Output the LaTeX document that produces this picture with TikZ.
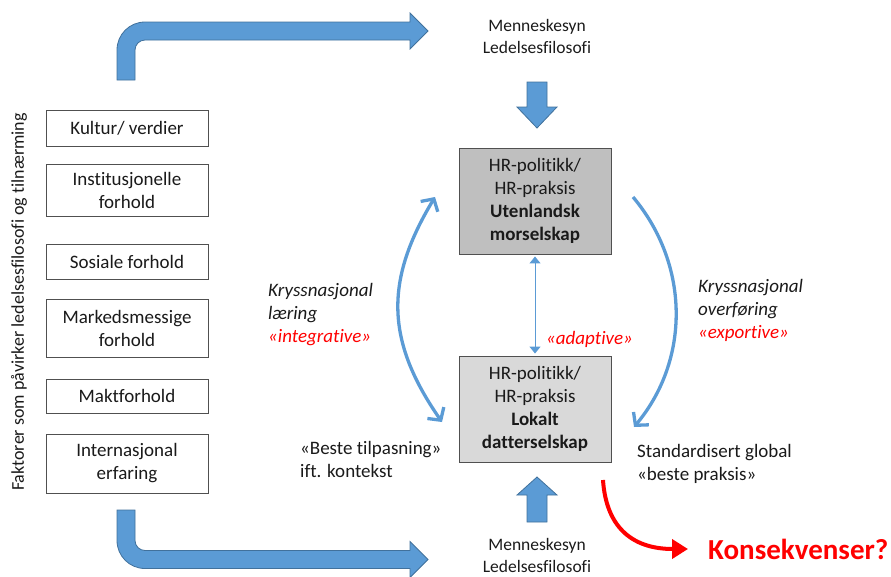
\documentclass[tikz,border=0pt]{standalone}
\usepackage{fontspec}
\setmainfont{Carlito}[Ligatures={NoCommon}]
\usetikzlibrary{arrows.meta}
\definecolor{officeblue}{HTML}{5B9BD5}
\definecolor{blueedge}{HTML}{41719C}
\definecolor{boxedge}{HTML}{505050}
\definecolor{txt}{HTML}{1A1A1A}
\definecolor{darkfill}{HTML}{BFBFBF}
\definecolor{lightfill}{HTML}{D9D9D9}
\definecolor{redc}{HTML}{FF0000}
\begin{document}
\begin{tikzpicture}[x=1pt,y=-1pt,
  basetext/.style={font=\fontsize{19}{23}\selectfont, text=txt},
  factor/.style={basetext, draw=boxedge, line width=0.9pt, fill=white, minimum width=162pt, align=center, inner sep=0pt},
  hrbox/.style={basetext, draw=boxedge, line width=0.9pt, minimum width=152pt, minimum height=106pt, align=center, inner sep=0pt},
  lbl/.style={basetext, align=left, anchor=west, inner sep=0pt},
  itlbl/.style={lbl, font=\fontsize{19}{23}\selectfont\itshape},
  menne/.style={font=\fontsize{17.5}{22}\selectfont, align=center, inner sep=0pt, text=txt},
  blockarrow/.style={fill=officeblue, draw=blueedge, line width=0.8pt},
  curvearrow/.style={draw=officeblue, line width=3.3pt},
]
\useasboundingbox (0,0) rectangle (891,576);

% bent arrows
\path[blockarrow] (117,80) -- (117,50) .. controls (117,34.5) and (129.5,22) .. (145,22)
  -- (410,22) -- (410,13) -- (428,31) -- (410,49) -- (410,40) -- (145,40)
  .. controls (139.5,40) and (135,44.5) .. (135,50) -- (135,80) -- cycle;
\path[blockarrow] (117,510) -- (117,540.5) .. controls (117,556) and (129.5,568.5) .. (145,568.5)
  -- (410,568.5) -- (410,577.5) -- (428,559.5) -- (410,541.5) -- (410,550.5) -- (145,550.5)
  .. controls (139.5,550.5) and (135,546) .. (135,540.5) -- (135,510) -- cycle;

% rotated side text
\node[font=\fontsize{18}{22}\selectfont, text=txt, rotate=90, inner sep=0pt] (side) at (19,302) {Faktorer som påvirker ledelsesfilosofi og tilnærming};

% factor boxes
\node[factor, minimum height=36pt] (f1) at (127,128) {Kultur/ verdier};
\node[factor, minimum height=52pt] (f2) at (127,190) {Institusjonelle\\forhold};
\node[factor, minimum height=35pt] (f3) at (127,261.5) {Sosiale forhold};
\node[factor, minimum height=58pt] (f4) at (127,328) {Markedsmessige\\forhold};
\node[factor, minimum height=34pt] (f5) at (127,396) {Maktforhold};
\node[factor, minimum height=59pt] (f6) at (127,463.5) {Internasjonal\\erfaring};

% Menneskesyn texts
\node[menne] (mtop) at (537,36) {Menneskesyn\\Ledelsesfilosofi};
\node[menne] (mbot) at (537,555) {Menneskesyn\\Ledelsesfilosofi};

% vertical block arrows
\path[blockarrow] (527,82) -- (547,82) -- (547,107) -- (557,107) -- (537,128) -- (517,107) -- (527,107) -- cycle;
\path[blockarrow] (527,522) -- (547,522) -- (547,495) -- (557,495) -- (537,477) -- (517,495) -- (527,495) -- cycle;

% HR boxes
\node[hrbox, fill=darkfill] (mor) at (535,201) {HR-politikk/\\HR-praksis\\\textbf{Utenlandsk}\\\textbf{morselskap}};
\node[hrbox, fill=lightfill] (datter) at (535,409) {HR-politikk/\\HR-praksis\\\textbf{Lokalt}\\\textbf{datterselskap}};

% thin double arrow
\draw[officeblue, line width=1pt, {Triangle[length=7pt,width=11pt]}-{Triangle[length=7pt,width=11pt]}, shorten <=2pt, shorten >=2pt] (mor.south) -- (datter.north);
\node[itlbl, text=redc] (adapt) at (546,339) {«adaptive»};

% curved arrows
\coordinate (la1) at (435,197);
\coordinate (la2) at (442,422);
\draw[curvearrow, {Straight Barb[length=9pt,width=20pt]}-{Straight Barb[length=9pt,width=20pt]}] (la2) .. controls (385,340) and (385,280) .. (la1);
\coordinate (ra1) at (633,197);
\coordinate (ra2) at (634,427);
\draw[curvearrow, -{Straight Barb[length=9pt,width=20pt]}] (ra1) .. controls (690,265) and (690,360) .. (ra2);

% labels
\node[itlbl] (llab) at (268,315) {Kryssnasjonal\\læring\\\textcolor{redc}{«integrative»}};
\node[itlbl] (rlab) at (698,310) {Kryssnasjonal\\overføring\\\textcolor{redc}{«exportive»}};
\node[lbl] (beste) at (300,459) {«Beste tilpasning»\\ift. kontekst};
\node[lbl] (std) at (637,464) {Standardisert global\\«beste praksis»};

% consequences
\coordinate (rs) at (603,480);
\node[anchor=west, inner sep=0pt, font=\fontsize{29}{34}\selectfont\bfseries, text=redc] (kons) at (708,549) {Konsekvenser?};
\draw[redc, line width=4pt, -{Triangle[length=16pt,width=19pt]}, shorten >=20pt] (rs) .. controls (606,525) and (630,549) .. (kons.west);
\end{tikzpicture}
\end{document}
